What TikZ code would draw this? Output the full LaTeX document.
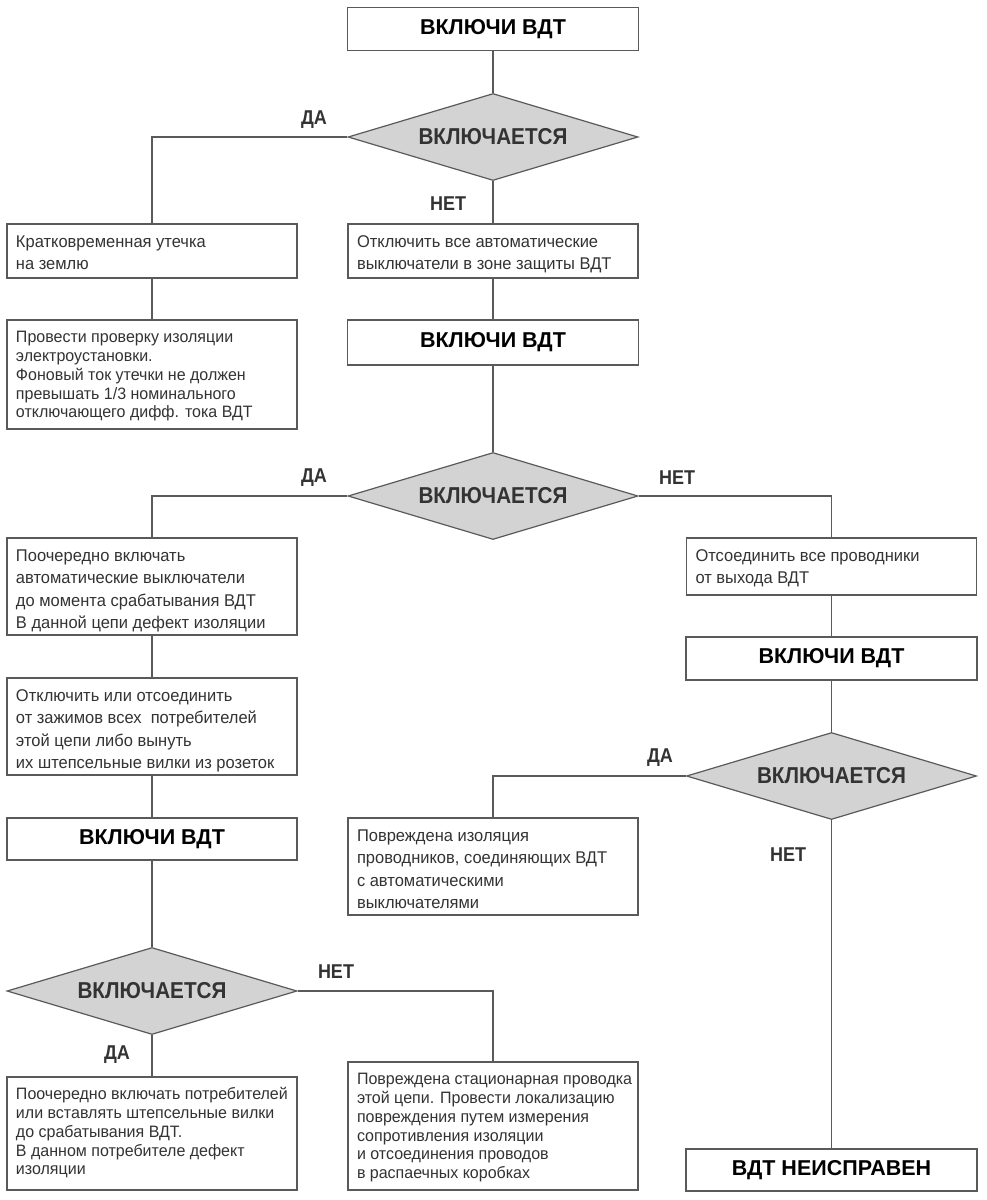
\documentclass[tikz,border=0pt]{standalone}
\usepackage{fontspec}
\setmainfont{Liberation Sans}
\newfontfamily\narrowfont[FakeStretch=0.9]{Liberation Sans}
\newfontfamily\bodyfont[FakeStretch=0.97]{Liberation Sans}
\newfontfamily\widefont[FakeStretch=0.97]{Liberation Sans}
\usetikzlibrary{shapes.geometric}
\definecolor{lin}{HTML}{5A5A5A}
\definecolor{txt}{HTML}{333333}
\definecolor{dfill}{HTML}{D3D3D3}
\newcommand{\btext}[2]{\makebox[272pt][l]{\parbox[c][#1][t]{400pt}{\raggedright\bodyfont\fontsize{17}{22.3}\selectfont\vspace*{8pt}\strut #2}}}
\newcommand{\ttext}[2]{\makebox[272pt][l]{\parbox[c][#1][t]{400pt}{\raggedright\widefont\fontsize{16.5}{18.8}\selectfont\vspace*{9.5pt}\strut #2}}}
\tikzset{
  box/.style={draw=lin, line width=1.2pt, rectangle, fill=white, inner xsep=9pt, inner ysep=0pt,
     minimum width=290pt, text=txt},
  tbox/.style={box},
  head/.style={draw=lin, line width=1.2pt, rectangle, fill=white, minimum width=291pt, inner sep=0pt,
     align=center, text=black, font=\fontsize{21.5}{24}\selectfont\bfseries},
  dec/.style={draw=lin, line width=1.2pt, diamond, fill=dfill, minimum width=290pt, minimum height=87pt,
     inner sep=0pt, aspect=3.3, text=txt, font=\fontsize{23}{26}\narrowfont\bfseries},
  lab/.style={text=txt, font=\fontsize{20}{22}\narrowfont\bfseries, inner sep=0pt},
  con/.style={draw=lin, line width=1.2pt}
}
\begin{document}
\begin{tikzpicture}[x=1pt,y=-1pt]
\useasboundingbox[fill=white] (0,0) rectangle (987,1200);
% top column
\node[head, minimum height=43pt] (b1) at (493,29) {ВКЛЮЧИ ВДТ};
\node[dec] (d1) at (493,137) {ВКЛЮЧАЕТСЯ};
\node[box] (t1) at (152,251) {\btext{54pt}{Кратковременная утечка\\на землю}};
\node[tbox] (t2) at (152,374.5) {\ttext{109pt}{Провести проверку изоляции\\электроустановки.\\Фоновый ток утечки не должен\\превышать 1/3 номинального\\отключающего дифф. тока ВДТ}};
\node[box] (a1) at (493,251) {\btext{54pt}{Отключить все автоматические\\выключатели в зоне защиты ВДТ}};
\node[head, minimum height=45pt] (b2) at (493,342.5) {ВКЛЮЧИ ВДТ};
\node[dec] (d2) at (493,496) {ВКЛЮЧАЕТСЯ};
% left column
\node[box] (l1) at (152,586.5) {\btext{97pt}{Поочередно включать\\автоматические выключатели\\до момента срабатывания ВДТ\\В данной цепи дефект изоляции}};
\node[box] (l2) at (152,726.5) {\btext{97pt}{Отключить или отсоединить\\от зажимов всех\ \ потребителей\\этой цепи либо вынуть\\их штепсельные вилки из розеток}};
\node[head, minimum height=42pt, minimum width=290pt] (l3) at (152,839) {ВКЛЮЧИ ВДТ};
\node[dec] (d3) at (152,991) {ВКЛЮЧАЕТСЯ};
\node[tbox] (l4) at (152,1133.5) {\ttext{113pt}{Поочередно включать потребителей\\или вставлять штепсельные вилки\\до срабатывания ВДТ.\\В данном потребителе дефект\\изоляции}};
\node[tbox] (m4) at (493,1126) {\ttext{128pt}{Повреждена стационарная проводка\\этой цепи. Провести локализацию\\повреждения путем измерения\\сопротивления изоляции\\и отсоединения проводов\\в распаечных коробках}};
% right column
\node[box] (r1) at (831.5,566.5) {\btext{57pt}{Отсоединить все проводники\\от выхода ВДТ}};
\node[head, minimum height=43pt] (r2) at (831.5,658.5) {ВКЛЮЧИ ВДТ};
\node[dec] (d4) at (831.5,776) {ВКЛЮЧАЕТСЯ};
\node[box] (m3) at (493,866.5) {\btext{97pt}{Повреждена изоляция\\проводников, соединяющих ВДТ\\с автоматическими\\выключателями}};
\node[head, minimum height=42pt] (r3) at (831.5,1170) {ВДТ НЕИСПРАВЕН};
% connectors
\draw[con] (b1.south) -- (d1.north);
\draw[con] (d1.west) -| (t1.north);
\draw[con] (d1.south) -- (a1.north);
\draw[con] (t1.south) -- (t2.north);
\draw[con] (a1.south) -- (b2.north);
\draw[con] (b2.south) -- (d2.north);
\draw[con] (d2.west) -| (l1.north);
\draw[con] (d2.east) -| (r1.north);
\draw[con] (l1.south) -- (l2.north);
\draw[con] (l2.south) -- (l3.north);
\draw[con] (l3.south) -- (d3.north);
\draw[con] (d3.east) -| (m4.north);
\draw[con] (d3.south) -- (l4.north);
\draw[con] (r1.south) -- (r2.north);
\draw[con] (r2.south) -- (d4.north);
\draw[con] (d4.west) -| (m3.north);
\draw[con] (d4.south) -- (r3.north);
% labels
\node[lab] (y1) at (314,120) {ДА};
\node[lab] (n1) at (448,204) {НЕТ};
\node[lab] (y2) at (314,478) {ДА};
\node[lab] (n2) at (677,478) {НЕТ};
\node[lab] (n3) at (336,972) {НЕТ};
\node[lab] (y3) at (117,1055) {ДА};
\node[lab] (y4) at (660,758) {ДА};
\node[lab] (n4) at (788,855) {НЕТ};
\end{tikzpicture}
\end{document}
